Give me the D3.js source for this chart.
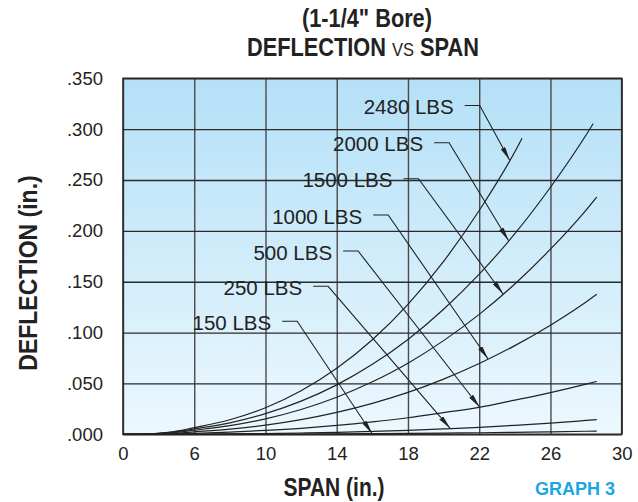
<!DOCTYPE html>
<html><head><meta charset="utf-8">
<script src="https://cdn.jsdelivr.net/npm/d3@7"></script>
<style>
html,body{margin:0;padding:0;background:#fff;}
svg{display:block;}
.tk{font-family:"Liberation Sans",Arial,sans-serif;font-size:18.5px;fill:#222;}
.ttl{font-family:"Liberation Sans",Arial,sans-serif;font-weight:bold;fill:#222;}
.lbl{font-family:"Liberation Sans",Arial,sans-serif;font-size:20.5px;fill:#222;}
</style></head>
<body>
<svg id="c" width="638" height="502"></svg>
<script>
// ---- data ----
const xTicks = [0, 6, 10, 14, 18, 22, 26, 30];
const yTicks = [0, 0.05, 0.10, 0.15, 0.20, 0.25, 0.30, 0.35];
const loads = ["2480 LBS", "2000 LBS", "1500 LBS", "1000 LBS", "500 LBS", "250 LBS", "150 LBS"];
const span2480 = [0, 2, 4, 6, 8, 10, 12, 14, 16, 18, 20, 22, 24, 24.4];
const span2000 = [0, 2, 4, 6, 8, 10, 12, 14, 16, 18, 20, 22, 24, 26, 28, 28.4];
const spanLong = [0, 2, 4, 6, 8, 10, 12, 14, 16, 18, 20, 22, 24, 26, 28, 28.6];
const defl2480 = [0, 0.0003, 0.0022, 0.0066, 0.0143, 0.0261, 0.0428, 0.0649, 0.0930, 0.1278, 0.1700, 0.2200, 0.2777, 0.2910];
const defl2000 = [0, 0.0003, 0.0019, 0.0054, 0.0113, 0.0203, 0.0326, 0.0486, 0.0688, 0.0933, 0.1229, 0.1574, 0.1972, 0.2429, 0.2943, 0.3055];
const defl1500 = [0, 0.0002, 0.0014, 0.0040, 0.0085, 0.0152, 0.0244, 0.0364, 0.0516, 0.0699, 0.0921, 0.1179, 0.1478, 0.1820, 0.2205, 0.2333];
const defl1000 = [0, 0.0001, 0.0008, 0.0024, 0.0050, 0.0090, 0.0144, 0.0215, 0.0304, 0.0412, 0.0543, 0.0696, 0.0872, 0.1073, 0.1301, 0.1376];
const defl500  = [0, 0.0001, 0.0004, 0.0010, 0.0022, 0.0038, 0.0059, 0.0087, 0.0122, 0.0163, 0.0213, 0.0265, 0.0336, 0.0410, 0.0493, 0.0520];
const defl250  = [0, 0, 0.0001, 0.0002, 0.0004, 0.0008, 0.0013, 0.0019, 0.0028, 0.0039, 0.0053, 0.0069, 0.0088, 0.0110, 0.0136, 0.0144];
const defl150  = [0, 0, 0, 0, 0.0001, 0.0002, 0.0003, 0.0004, 0.0006, 0.0009, 0.0012, 0.0015, 0.0019, 0.0024, 0.0030, 0.0032];
// label anchors (span, deflection) and arrow target span on each curve
const labelSpan = [20.57, 18.85, 17.13, 15.43, 13.74, 12.06, 10.32];
const labelDefl = [0.3232, 0.2867, 0.2513, 0.2156, 0.1802, 0.1455, 0.1111];
const arrowSpan = [23.71, 23.65, 23.34, 22.5, 22.03, 20.38, 15.99];

const seriesX = [span2480, span2000, spanLong, spanLong, spanLong, spanLong, spanLong];
const seriesY = [defl2480, defl2000, defl1500, defl1000, defl500, defl250, defl150];

// ---- layout ----
const L = 123, R = 621.7, T = 78.3, B = 434.3;
const svg = d3.select("#c");
const x = d3.scaleLinear().domain([0, 6, 30]).range([L, L + (R - L) / 7, R]);
const y = d3.scaleLinear().domain([0, 0.35]).range([B, T]);

const defs = svg.append("defs");
const grad = defs.append("linearGradient").attr("id", "bg").attr("x1", 0).attr("y1", 0).attr("x2", 0).attr("y2", 1);
grad.append("stop").attr("offset", "0%").attr("stop-color", "#b4e0f7");
grad.append("stop").attr("offset", "100%").attr("stop-color", "#ecf8fe");
defs.append("marker").attr("id", "ah").attr("markerUnits", "userSpaceOnUse")
  .attr("viewBox", "0 0 14 5").attr("refX", 14).attr("refY", 2.5)
  .attr("markerWidth", 14).attr("markerHeight", 5).attr("orient", "auto")
  .append("path").attr("d", "M0,0 L14,2.5 L0,5 Z").attr("fill", "#222");

svg.append("rect").attr("x", L).attr("y", T).attr("width", R - L).attr("height", B - T).attr("fill", "url(#bg)");

// grid
svg.append("g").attr("transform", `translate(0,${B})`)
  .call(d3.axisBottom(x).tickValues(xTicks).tickSize(-(B - T)).tickFormat(""))
  .call(g => g.select(".domain").remove())
  .call(g => g.selectAll("line").attr("stroke", "#4a4a4a").attr("stroke-width", 1.4));
svg.append("g").attr("transform", `translate(${L},0)`)
  .call(d3.axisLeft(y).tickValues(yTicks).tickSize(-(R - L)).tickFormat(""))
  .call(g => g.select(".domain").remove())
  .call(g => g.selectAll("line").attr("stroke", "#2a2a2a").attr("stroke-width", 1.3));

svg.append("rect").attr("x", L).attr("y", T).attr("width", R - L).attr("height", B - T)
  .attr("fill", "none").attr("stroke", "#2a2a2a").attr("stroke-width", 1.6);

// tick labels
svg.append("g").attr("transform", `translate(0,${B})`)
  .call(d3.axisBottom(x).tickValues(xTicks).tickSize(0).tickPadding(13).tickFormat(d3.format("d")))
  .call(g => g.select(".domain").remove())
  .call(g => g.selectAll("text").attr("class", "tk"));
svg.append("g").attr("transform", `translate(${L},0)`)
  .call(d3.axisLeft(y).tickValues(yTicks).tickSize(0).tickPadding(20).tickFormat(d => d3.format(".3f")(d).replace(/^0/, "")))
  .call(g => g.select(".domain").remove())
  .call(g => g.selectAll("text").attr("class", "tk"));

// curves
const line = d3.line().curve(d3.curveMonotoneX).x(d => x(d[0])).y(d => y(d[1]));
seriesY.forEach((ys, i) => {
  const pts = ys.map((v, j) => [seriesX[i][j], v]);
  svg.append("path").attr("d", line(pts)).attr("fill", "none").attr("stroke", "#222").attr("stroke-width", 1.2);
});

// labels and leaders
function interp(xs, ys, v) {
  for (let j = 1; j < xs.length; j++) {
    if (v <= xs[j]) { const t = (v - xs[j - 1]) / (xs[j] - xs[j - 1]); return ys[j - 1] + t * (ys[j] - ys[j - 1]); }
  }
  return ys[ys.length - 1];
}
loads.forEach((name, i) => {
  const tx = x(labelSpan[i]), ty = y(labelDefl[i]);
  svg.append("text").attr("class", "lbl").attr("x", tx).attr("y", ty + 1.5).attr("dy", "0.35em")
    .attr("text-anchor", "end").text(name);
  const ax = x(arrowSpan[i]), ay = y(interp(seriesX[i], seriesY[i], arrowSpan[i]));
  svg.append("path").attr("d", `M${tx + 11},${ty} H${tx + 26} L${ax},${ay}`)
    .attr("fill", "none").attr("stroke", "#222").attr("stroke-width", 1.1).attr("marker-end", "url(#ah)");
});

// titles (condensed bold via horizontal scaling)
function condensed(cx, cy, rot, sx, size, build) {
  const g = svg.append("g").attr("transform", `translate(${cx},${cy}) rotate(${rot}) scale(${sx},1)`);
  const t = g.append("text").attr("class", "ttl").attr("dy", "0.35em").attr("text-anchor", "middle").style("font-size", size + "px");
  build(t);
}
condensed(367, 18, 0, 0.87, 25, t => t.text('(1-1/4" Bore)'));
condensed(363, 47, 0, 0.87, 25, t => {
  t.append("tspan").text("DEFLECTION ");
  t.append("tspan").style("font-weight", "normal").style("font-size", "19px").text("VS");
  t.append("tspan").text(" SPAN");
});
condensed(334, 487, 0, 0.84, 25, t => t.text("SPAN (in.)"));
condensed(28, 273, -90, 0.92, 25, t => t.text("DEFLECTION (in.)"));
svg.append("text").attr("x", 575).attr("y", 489).attr("dy", "0.35em").attr("text-anchor", "middle")
  .style("font-family", "'Liberation Sans',Arial,sans-serif").style("font-weight", "bold").style("font-size", "18px")
  .attr("fill", "#1ba6e2").text("GRAPH 3");
</script>
</body></html>
